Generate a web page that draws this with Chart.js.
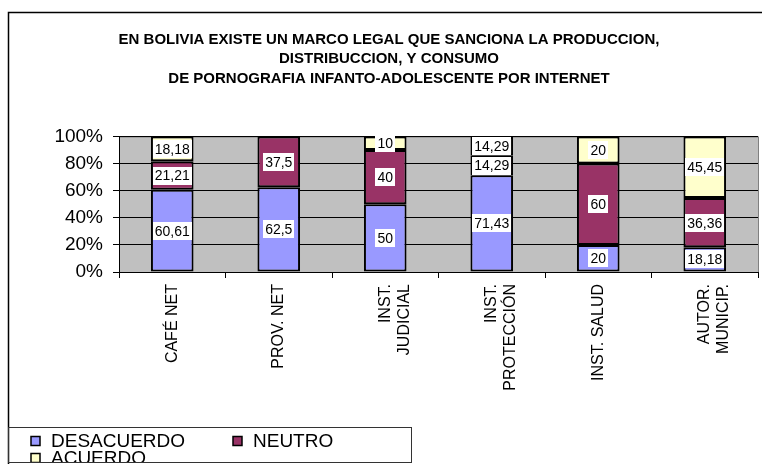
<!DOCTYPE html>
<html>
<head>
<meta charset="utf-8">
<script src="https://cdn.jsdelivr.net/npm/chart.js@4.4.1/dist/chart.umd.min.js"></script>
<style>
  html, body { margin: 0; padding: 0; background: #fff; }
  #wrap { width: 762px; height: 464px; }
</style>
</head>
<body>
<div id="wrap"><canvas id="chart" width="762" height="464"></canvas></div>
<script>
const titleLines = [
    'EN BOLIVIA EXISTE UN MARCO LEGAL QUE SANCIONA LA PRODUCCION,',
    'DISTRIBUCCION, Y CONSUMO',
    'DE PORNOGRAFIA INFANTO-ADOLESCENTE POR INTERNET'
]
const categories = ['CAFÉ NET', 'PROV. NET', ['INST.', 'JUDICIAL'], ['INST.', 'PROTECCIÓN'], 'INST. SALUD', ['AUTOR.', 'MUNICIP.']]
const desacuerdo = [60.61, 62.5, 50, 71.43, 20, 18.18]
const neutro = [21.21, 37.5, 40, 14.29, 60, 36.36]
const acuerdo = [18.18, 0, 10, 14.29, 20, 45.45]
const yTicks = [0, 20, 40, 60, 80, 100]

const FONT = 'Arial, "Liberation Sans", sans-serif'

// fondo gris del area de trazado + marcos
const frame = {
    id: 'frame',
    beforeDraw(chart) {
        const {ctx, chartArea: a} = chart
        ctx.save()
        ctx.fillStyle = '#fff'
        ctx.fillRect(0, 0, chart.width, chart.height)
        ctx.fillStyle = '#C0C0C0'
        ctx.fillRect(a.left, a.top, a.right - a.left, a.bottom - a.top)
        ctx.strokeStyle = '#808080'
        ctx.lineWidth = 1
        ctx.strokeRect(a.left + 0.5, a.top + 0.5, a.right - a.left, a.bottom - a.top)
        ctx.restore()
    },
    afterDraw(chart) {
        const ctx = chart.ctx
        ctx.save()
        ctx.strokeStyle = '#000'
        ctx.lineWidth = 1.5
        ctx.strokeRect(8.5, 12.5, 900, 600)
        ctx.restore()
    }
}

// etiquetas de valores con fondo blanco
const valueLabels = {
    id: 'valueLabels',
    afterDatasetsDraw(chart) {
        const ctx = chart.ctx
        ctx.save()
        ctx.font = '14px ' + FONT
        ctx.textAlign = 'center'
        ctx.textBaseline = 'middle'
        chart.data.datasets.forEach((ds, i) => {
            chart.getDatasetMeta(i).data.forEach((bar, j) => {
                const v = ds.data[j]
                if (!v) return
                const txt = String(v).replace('.', ',')
                const y = (bar.y + bar.base) / 2
                const w = ctx.measureText(txt).width + 4
                ctx.fillStyle = '#fff'
                ctx.fillRect(Math.round(bar.x - w / 2), Math.round(y - 9), Math.round(w), 18)
                ctx.fillStyle = '#000'
                ctx.fillText(txt, bar.x, y + 1)
            })
        })
        ctx.restore()
    }
}

// leyenda dibujada a mano, recortada por su recuadro como en el original
const legendBox = {
    id: 'legendBox',
    afterDraw(chart) {
        const ctx = chart.ctx
        const pos = [[31, 441], [233, 441], [31, 458]]
        ctx.save()
        ctx.beginPath()
        ctx.rect(9, 428, 402, 34)
        ctx.clip()
        ctx.font = '19px ' + FONT
        ctx.textBaseline = 'middle'
        chart.data.datasets.forEach((ds, i) => {
            const [x, y] = pos[i]
            ctx.fillStyle = ds.backgroundColor
            ctx.fillRect(x, y - 4.5, 9, 9)
            ctx.strokeStyle = '#000'
            ctx.lineWidth = 1.5
            ctx.strokeRect(x, y - 4.5, 9, 9)
            ctx.fillStyle = '#000'
            ctx.fillText(ds.label, x + 20, y + 1)
        })
        ctx.restore()
        ctx.save()
        ctx.strokeStyle = '#333'
        ctx.lineWidth = 1
        ctx.strokeRect(8.5, 427.5, 403, 35)
        ctx.restore()
    }
}

const barStyle = {borderColor: '#000', borderWidth: 2, borderSkipped: false, categoryPercentage: 1, barPercentage: 0.4}

new Chart(document.getElementById('chart'), {
    type: 'bar',
    data: {
        labels: categories,
        datasets: [
            {label: 'DESACUERDO', data: desacuerdo, backgroundColor: '#9999FF', ...barStyle},
            {label: 'NEUTRO', data: neutro, backgroundColor: '#993366', ...barStyle},
            {label: 'ACUERDO', data: acuerdo, backgroundColor: '#FFFFCC', ...barStyle}
        ]
    },
    options: {
        responsive: false,
        animation: false,
        layout: {padding: {left: 20, right: 4, top: 0, bottom: 0}},
        scales: {
            x: {
                stacked: true,
                grid: {offset: true, drawOnChartArea: false, drawTicks: true, tickLength: 6, color: '#000'},
                border: {display: true, color: '#000'},
                ticks: {
                    color: '#000', font: {family: FONT, size: 16}, padding: 6,
                    minRotation: 90, maxRotation: 90, autoSkip: false
                },
                afterFit: s => { s.height = 192 }
            },
            y: {
                stacked: true,
                min: 0,
                max: 100,
                afterBuildTicks: s => { s.ticks = yTicks.map(v => ({value: v})) },
                grid: {color: '#000', tickLength: 6},
                border: {display: true, color: '#000'},
                ticks: {color: '#000', font: {family: FONT, size: 19}, padding: 10, callback: v => v + '%'},
                afterFit: s => { s.width = 99 }
            }
        },
        plugins: {
            legend: {display: false},
            tooltip: {enabled: false},
            title: {
                display: true,
                text: titleLines,
                color: '#000',
                font: {family: FONT, size: 15, weight: 'bold', lineHeight: 1.3},
                padding: {top: 30, bottom: 48}
            }
        }
    },
    plugins: [frame, valueLabels, legendBox]
})
</script>
</body>
</html>
